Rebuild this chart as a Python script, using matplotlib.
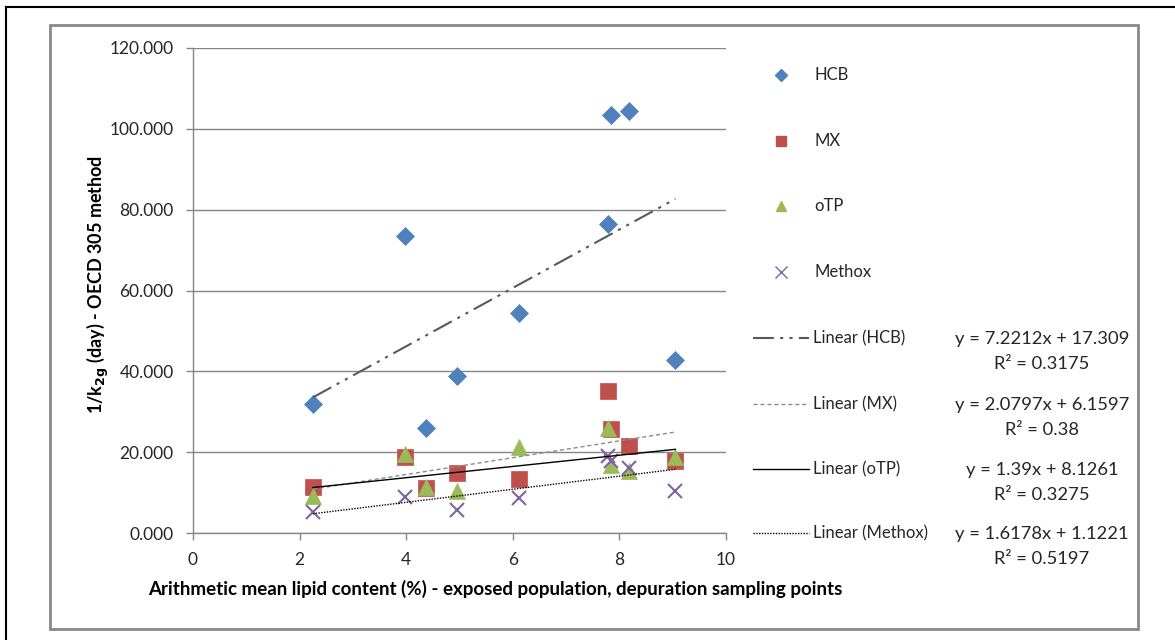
import matplotlib
matplotlib.use("Agg")
import matplotlib.pyplot as plt
from matplotlib.lines import Line2D
import numpy as np

plt.rcParams['font.family'] = ['Lato', 'DejaVu Sans']

# ---- data ----
lipid = [2.25, 3.98, 4.37, 4.96, 6.12, 7.79, 7.84, 8.18, 9.05]
hcb = [31.8, 73.5, 26.1, 38.9, 54.5, 76.5, 103.3, 104.4, 42.8]
mx = [11.4, 18.9, 11.1, 14.8, 13.4, 35.1, 25.8, 21.6, 17.9]
otp = [9.2, 19.6, 11.4, 10.5, 21.4, 26.1, 16.9, 15.4, 18.7]
methox = [5.3, 8.9, np.nan, 5.6, 8.6, 19.1, 17.7, 16.0, 10.3]

series_names = ["HCB", "MX", "oTP", "Methox"]
slopes = [7.2212, 2.0797, 1.39, 1.6178]
intercepts = [17.309, 6.1597, 8.1261, 1.1221]
r2_values = ["0.3175", "0.38", "0.3275", "0.5197"]
eq_labels = ["y = 7.2212x + 17.309", "y = 2.0797x + 6.1597",
             "y = 1.39x + 8.1261", "y = 1.6178x + 1.1221"]

x_ticks = [0, 2, 4, 6, 8, 10]
y_ticks = [0, 20, 40, 60, 80, 100, 120]

# ---- styles ----
colors = ["#4F81BD", "#C0504D", "#9BBB59", "#8064A2"]
markers = ["D", "s", "^", "x"]
msizes = [9.5, 11.5, 12, 10]
trend_styles = [
    dict(color="#595959", lw=1.5, dashes=(10, 3, 1.5, 3, 1.5, 3)),
    dict(color="#8C8C8C", lw=1.0, dashes=(3, 2)),
    dict(color="#000000", lw=1.0, linestyle="-"),
    dict(color="#000000", lw=1.0, dashes=(1, 1)),
]

W, H = 1175, 640
fig = plt.figure(figsize=(W / 100, H / 100), dpi=100)

def fx(px):
    return px / W

def fy(py):
    return 1 - py / H

AX_L, AX_R, AX_T, AX_B = 193, 726, 48, 533
ax = fig.add_axes([fx(AX_L), fy(AX_B), fx(AX_R) - fx(AX_L), fy(AX_T) - fy(AX_B)])

data = [hcb, mx, otp, methox]
xs = np.array(lipid)
for name, vals, c, m, ms in zip(series_names, data, colors, markers, msizes):
    if m == "x":
        ax.plot(xs, vals, linestyle="none", marker=m, markersize=ms,
                markeredgecolor=c, markeredgewidth=1.5, zorder=3)
    else:
        ax.plot(xs, vals, linestyle="none", marker=m, markersize=ms,
                markerfacecolor=c, markeredgecolor=c, markeredgewidth=0.5, zorder=3)

xmin, xmax = np.nanmin(xs), np.nanmax(xs)
xl = np.array([xmin, xmax])
for s, b, st in zip(slopes, intercepts, trend_styles):
    ax.plot(xl, s * xl + b, zorder=4, **st)

ax.set_xlim(0, 10)
ax.set_ylim(0, 120)
ax.set_xticks(x_ticks)
ax.set_yticks(y_ticks)
ax.set_yticklabels([f"{v:.3f}" for v in y_ticks])
ax.yaxis.grid(True, color="#868686", lw=1.0)
ax.set_axisbelow(True)
for sp in ["top", "right"]:
    ax.spines[sp].set_visible(False)
for sp in ["left", "bottom"]:
    ax.spines[sp].set_color("#868686")
    ax.spines[sp].set_linewidth(1.0)
ax.tick_params(axis="both", colors="#868686", length=5, width=1.0,
               labelsize=12.5, labelcolor="#262626", direction="out")
ax.tick_params(axis="y", pad=9)
ax.tick_params(axis="x", pad=9)

ax.set_xlabel("Arithmetic mean lipid content (%) - exposed population, depuration sampling points",
              fontsize=13.5, fontweight="bold")
ax.xaxis.set_label_coords((495 - AX_L) / (AX_R - AX_L), -(589 - AX_B) / (AX_B - AX_T))
ax.xaxis.label.set_va("center")
ax.set_ylabel(r"1/k$_{\mathbf{2g}}$ (day) - OECD 305 method",
              fontsize=13, fontweight="bold")
ax.yaxis.set_label_coords(-(AX_L - 98) / (AX_R - AX_L), (AX_B - 284) / (AX_B - AX_T))
ax.yaxis.label.set_va("center")

# ---- legend drawn manually ----
marker_y = [75, 141, 206, 272]
for name, c, m, ms, yy in zip(series_names, colors, markers, msizes, marker_y):
    if m == "x":
        h = Line2D([fx(781)], [fy(yy)], transform=fig.transFigure, marker=m,
                   markersize=8, markeredgecolor=c, markeredgewidth=1.0,
                   linestyle="none")
    else:
        h = Line2D([fx(781)], [fy(yy)], transform=fig.transFigure, marker=m,
                   markersize=7 if m != "D" else 6, markerfacecolor=c,
                   markeredgecolor=c, linestyle="none")
    fig.add_artist(h)
    fig.text(fx(814), fy(yy), name, fontsize=12, color="#262626",
             va="center", ha="left")

line_y = [338, 404, 469, 533]
for name, st, yy, eq, r2 in zip(series_names, trend_styles, line_y, eq_labels, r2_values):
    fig.add_artist(Line2D([fx(753), fx(809)], [fy(yy), fy(yy)],
                          transform=fig.transFigure, **st))
    fig.text(fx(813), fy(yy), f"Linear ({name})", fontsize=12,
             color="#262626", va="center", ha="left")
    fig.text(fx(1042), fy(yy + 1), eq, fontsize=13.2, color="#262626",
             va="center", ha="center")
    fig.text(fx(1042), fy(yy + 26), f"R² = {r2}", fontsize=13.2, color="#262626",
             va="center", ha="center")

# ---- chart border and outer frame lines ----
fig.add_artist(plt.Rectangle((fx(50), fy(629)), fx(1138) - fx(50), fy(25) - fy(629),
                             transform=fig.transFigure, fill=False,
                             edgecolor="#898989", lw=2.0))
fig.add_artist(Line2D([fx(6), 1], [fy(7), fy(7)], transform=fig.transFigure,
                      color="black", lw=1.5))
fig.add_artist(Line2D([fx(6), fx(6)], [fy(7), 0], transform=fig.transFigure,
                      color="black", lw=1.5))

fig.savefig("out.png", dpi=100)
